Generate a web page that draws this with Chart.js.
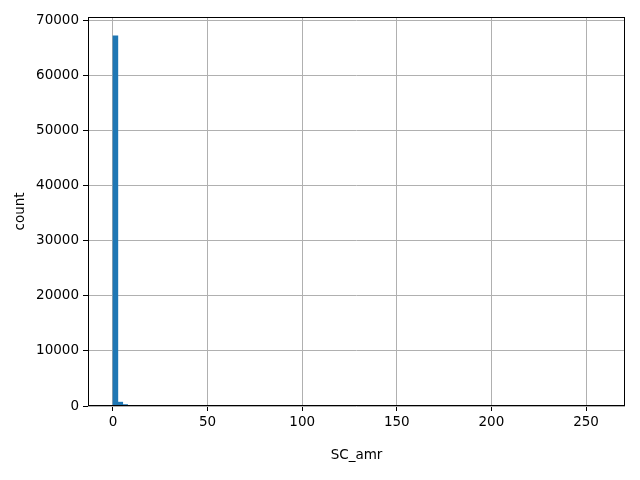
<!DOCTYPE html>
<html>
<head>
<meta charset="utf-8">
<script src="https://cdn.jsdelivr.net/npm/chart.js@4.4.0/dist/chart.umd.min.js"></script>
<style>
  html, body { margin: 0; padding: 0; background: #fff; }
  #wrap { width: 640px; height: 480px; }
</style>
</head>
<body>
<div id="wrap"><canvas id="hist"></canvas></div>
<script>
// histogram of SC_amr, 100 bins from 0 to 258
const binStart = 0;
const binWidth = 2.58;
const binCounts = [
    67260, 700, 260, 90, 45, 25, 15, 10, 8, 6,
    5, 4, 3, 3, 2, 2, 2, 1, 1, 1,
    1, 1, 1, 1, 0, 1, 0, 1, 0, 0,
    1, 0, 0, 0, 1, 0, 0, 0, 0, 1,
    0, 0, 0, 0, 0, 0, 0, 0, 0, 0,
    0, 0, 0, 0, 0, 0, 0, 0, 0, 0,
    0, 0, 0, 0, 0, 0, 0, 0, 0, 0,
    0, 0, 0, 0, 0, 0, 0, 0, 0, 0,
    0, 0, 0, 0, 0, 0, 0, 0, 0, 0,
    0, 0, 0, 0, 0, 0, 0, 0, 0, 1
];
const xTicks = [0, 50, 100, 150, 200, 250];
const yTicks = [0, 10000, 20000, 30000, 40000, 50000, 60000, 70000];

// bar centers
const points = binCounts.map((c, i) => ({ x: binStart + binWidth * (i + 0.5), y: c }));

const font = { family: 'DejaVu Sans', size: 13.5 };

// draw the black frame around the plot area
const frame = {
    id: 'frame',
    afterDraw(chart) {
        const a = chart.chartArea;
        const ctx = chart.ctx;
        ctx.save();
        ctx.strokeStyle = '#000';
        ctx.lineWidth = 1;
        ctx.strokeRect(a.left + 0.5, a.top + 0.5, a.right - a.left - 1, a.bottom - a.top - 1);
        ctx.restore();
    }
};

new Chart(document.getElementById('hist').getContext('2d'), {
    type: 'bar',
    data: {
        datasets: [{
            data: points,
            backgroundColor: '#1f77b4',
            borderWidth: 0,
            barPercentage: 1,
            categoryPercentage: 1
        }]
    },
    options: {
        responsive: true,
        maintainAspectRatio: false,
        animation: false,
        layout: { padding: { left: 0, right: 15, top: 17, bottom: 0 } },
        plugins: { legend: { display: false }, tooltip: { enabled: false } },
        scales: {
            x: {
                type: 'linear',
                offset: false,
                min: -13.2,
                max: 270.6,
                afterBuildTicks: s => { s.ticks = xTicks.map(v => ({ value: v })); },
                afterFit: s => { s.height = 74; },
                grid: { color: '#b0b0b0', tickColor: '#000', tickLength: 5, offset: false },
                border: { display: false },
                ticks: { color: '#000', font: font, padding: 3, maxRotation: 0 },
                title: { display: true, text: 'SC_amr', color: '#000', font: font, padding: { top: 16, bottom: 16 } }
            },
            y: {
                min: 0,
                max: 70673,
                afterBuildTicks: s => { s.ticks = yTicks.map(v => ({ value: v })); },
                afterFit: s => { s.width = 88; },
                grid: { color: '#b0b0b0', tickColor: '#000', tickLength: 5 },
                border: { display: false },
                ticks: { color: '#000', font: font, padding: 4, callback: v => String(v) },
                title: { display: true, text: 'count', color: '#000', font: font, padding: { top: 12, bottom: 12 } }
            }
        }
    },
    plugins: [frame]
});
</script>
</body>
</html>
